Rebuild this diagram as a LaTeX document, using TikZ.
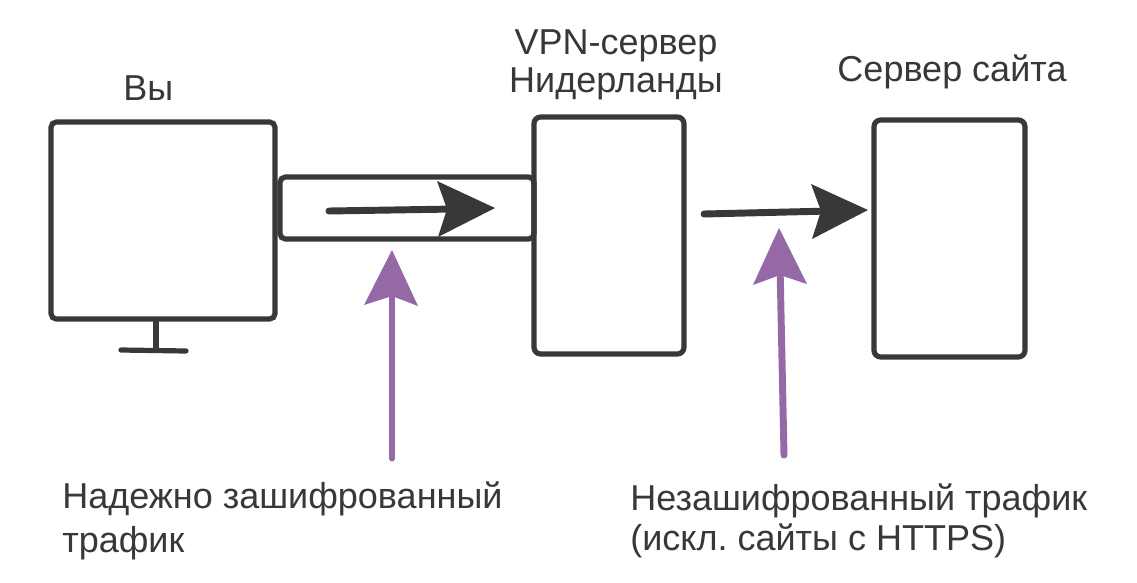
\documentclass[tikz,border=0pt]{standalone}
\usepackage{fontspec}
\setmainfont{Liberation Sans}
\frenchspacing
\definecolor{dk}{HTML}{3A3837}
\definecolor{pur}{HTML}{9569A6}
\tikzset{
 boxline/.style={draw=dk,line width=3.9pt},
 shaft/.style={line width=5.2pt,line cap=round},
 lbl/.style={text=dk,font=\fontsize{27}{32}\selectfont,inner sep=0pt,align=left}
}
\begin{document}
\begin{tikzpicture}[x=0.75pt,y=-0.75pt]
\useasboundingbox (0,0) rectangle (1137,582);
\fill[white] (0,0) rectangle (1137,582);
\draw[boxline,rounded corners=4pt] (51,122) rectangle (275,319);
\coordinate (st) at (156,319);
\coordinate (sb) at (156,351);
\coordinate (fl) at (121,350);
\coordinate (fr) at (186,351);
\draw[boxline] (st) -- (sb);
\draw[boxline,line cap=round] (fl) -- (fr);
\draw[boxline,rounded corners=4pt] (280,177) rectangle (534,239);
\draw[boxline,rounded corners=5pt] (534,117) rectangle (684,354);
\draw[boxline,rounded corners=5pt] (874,120) rectangle (1025,357);
\coordinate (a1s) at (329,211);
\coordinate (a1e) at (455,209);
\draw[dk,shaft] (a1s) -- (a1e);
\fill[dk] (437,181) -- (495,208) -- (438,237) -- (447,209) -- cycle;
\coordinate (a2s) at (704,214);
\coordinate (a2e) at (830,211);
\draw[dk,shaft] (a2s) -- (a2e);
\fill[dk] (811,184) -- (868,210) -- (812,239) -- (821,211) -- cycle;
\coordinate (p1s) at (392,458);
\coordinate (p1e) at (392,285);
\draw[pur,shaft] (p1s) -- (p1e);
\fill[pur] (392,250) -- (418,306) -- (392,296) -- (364,305) -- cycle;
\coordinate (p2s) at (784,455);
\coordinate (p2e) at (780,265);
\draw[pur,shaft] (p2s) -- (p2e);
\fill[pur] (779,228) -- (807,284) -- (780,275) -- (753,285) -- cycle;
\node[lbl,anchor=base west] (you) at (123,100) {Вы};
\node[lbl,anchor=base,align=center] (vpn) at (616,54) {VPN-сервер};
\node[lbl,anchor=base,align=center] (nl) at (616,92) {Нидерланды};
\node[lbl,anchor=base] (srv) at (952,81) {Сервер сайта};
\node[lbl,anchor=base west] (t1) at (62,508) {Надежно зашифрованный};
\node[lbl,anchor=base west] (t2) at (62,552) {трафик};
\node[lbl,anchor=base west] (t3) at (630,510) {Незашифрованный трафик};
\node[lbl,anchor=base west] (t4) at (630,550) {(искл. сайты с HTTPS)};
\end{tikzpicture}
\end{document}
